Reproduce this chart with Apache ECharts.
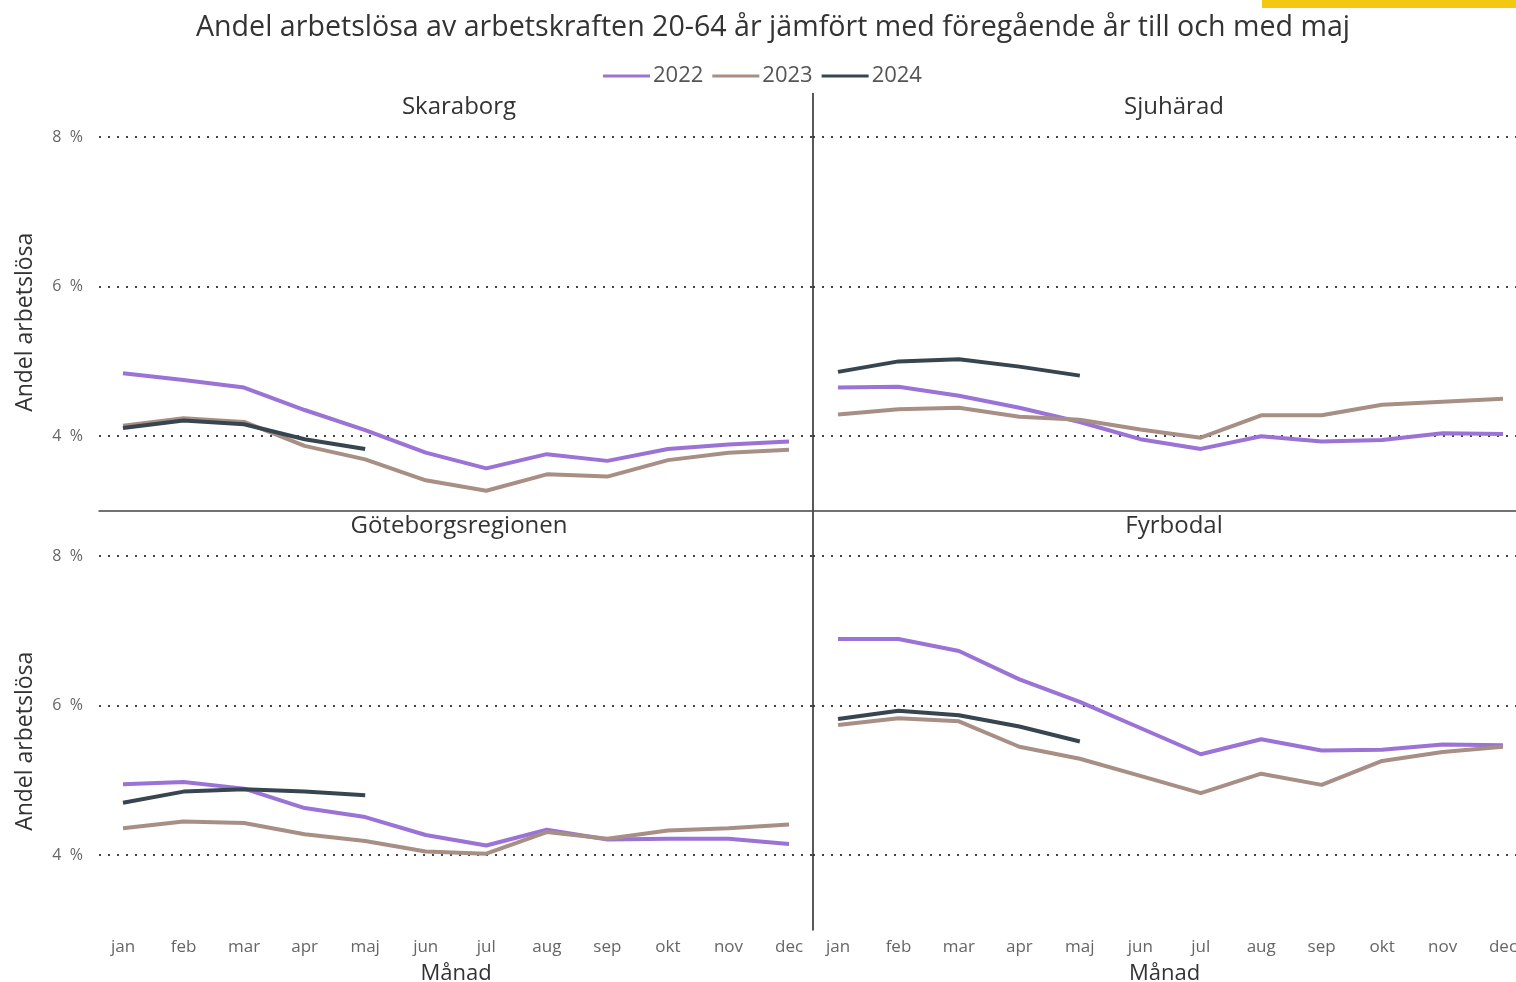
<!DOCTYPE html>
<html>
<head>
<meta charset="utf-8">
<script src="https://cdn.jsdelivr.net/npm/echarts@6/dist/echarts.min.js"></script>
<style>
  html, body { margin: 0; padding: 0; background: #fff; }
  #chart { width: 1516px; height: 982px; }
</style>
</head>
<body>
<div id="chart"></div>
<script>
// data
const months = ["jan", "feb", "mar", "apr", "maj", "jun", "jul", "aug", "sep", "okt", "nov", "dec"];
const years = ["2022", "2023", "2024"];
const regions = ["Skaraborg", "Sjuhärad", "Göteborgsregionen", "Fyrbodal"];
const yTicks = [4, 6, 8];

const skaraborg2022 = [4.84, 4.75, 4.65, 4.35, 4.08, 3.78, 3.57, 3.76, 3.67, 3.83, 3.89, 3.93];
const skaraborg2023 = [4.14, 4.24, 4.19, 3.87, 3.69, 3.41, 3.27, 3.49, 3.46, 3.68, 3.78, 3.82];
const skaraborg2024 = [4.11, 4.21, 4.16, 3.96, 3.83];

const sjuharad2022 = [4.65, 4.66, 4.54, 4.38, 4.19, 3.96, 3.83, 4.00, 3.93, 3.95, 4.04, 4.03];
const sjuharad2023 = [4.29, 4.36, 4.38, 4.26, 4.22, 4.09, 3.98, 4.28, 4.28, 4.42, 4.46, 4.50];
const sjuharad2024 = [4.86, 5.00, 5.03, 4.93, 4.81];

const goteborg2022 = [4.95, 4.98, 4.89, 4.63, 4.51, 4.27, 4.13, 4.34, 4.21, 4.22, 4.22, 4.15];
const goteborg2023 = [4.36, 4.45, 4.43, 4.28, 4.19, 4.05, 4.02, 4.31, 4.22, 4.33, 4.36, 4.41];
const goteborg2024 = [4.70, 4.85, 4.88, 4.85, 4.80];

const fyrbodal2022 = [6.89, 6.89, 6.73, 6.35, 6.05, 5.70, 5.35, 5.55, 5.40, 5.41, 5.48, 5.47];
const fyrbodal2023 = [5.74, 5.83, 5.79, 5.45, 5.29, 5.06, 4.83, 5.09, 4.94, 5.26, 5.38, 5.45];
const fyrbodal2024 = [5.82, 5.93, 5.87, 5.72, 5.52];

const panelData = [
    [skaraborg2022, skaraborg2023, skaraborg2024],
    [sjuharad2022, sjuharad2023, sjuharad2024],
    [goteborg2022, goteborg2023, goteborg2024],
    [fyrbodal2022, fyrbodal2023, fyrbodal2024],
];

const colors = ["#9B72D5", "#A88F86", "#36454F"];
const font = "'Open Sans', 'Noto Sans', sans-serif";

// panel layout: 0 top-left, 1 top-right, 2 bottom-left, 3 bottom-right
const grids = [
    { left: 99, top: 93.6, width: 714, height: 417.4, outerBoundsMode: "none" },
    { left: 813, top: 93.6, width: 703, height: 417.4, outerBoundsMode: "none" },
    { left: 99, top: 512.6, width: 714, height: 417.4, outerBoundsMode: "none" },
    { left: 813, top: 512.6, width: 703, height: 417.4, outerBoundsMode: "none" },
];
const xRange = [
    [-0.396, 11.396],
    [-0.414, 11.215],
    [-0.396, 11.396],
    [-0.414, 11.215],
];

const xAxes = grids.map((g, i) => {
    const isTop = i < 2;
    return {
        type: "value",
        gridIndex: i,
        min: xRange[i][0],
        max: xRange[i][1],
        name: isTop ? "" : "Månad",
        nameLocation: "middle",
        nameGap: 33,
        nameTextStyle: { fontSize: 22, color: "#333", fontFamily: font },
        axisLine: { show: isTop, onZero: false, lineStyle: { color: "#444", width: 1.5 } },
        axisTick: { show: false },
        splitLine: { show: false },
        axisLabel: {
            show: !isTop,
            customValues: months.map((m, k) => k),
            formatter: (v) => months[Math.round(v)],
            fontSize: 17,
            color: "#666",
            fontFamily: font,
            margin: 9,
        },
    };
});

const yAxes = grids.map((g, i) => {
    const isLeft = i % 2 === 0;
    return {
        type: "value",
        gridIndex: i,
        min: 3,
        max: 8.58,
        name: isLeft ? "Andel arbetslösa" : "",
        nameLocation: "middle",
        nameGap: 62,
        nameTextStyle: { fontSize: 23, color: "#333", fontFamily: font, padding: [0, 40, 0, 0] },
        axisLine: { show: !isLeft, onZero: false, lineStyle: { color: "#222", width: 1.5 } },
        axisTick: { show: false, customValues: yTicks },
        axisLabel: {
            show: isLeft,
            customValues: yTicks,
            formatter: (v) => v + "  %",
            fontSize: 16,
            color: "#666",
            fontFamily: font,
            margin: 16,
        },
        splitLine: {
            show: true,
            lineStyle: { color: "#444", width: 2, type: [2, 7] },
        },
    };
});

const series = [];
panelData.forEach((rows, p) => {
    rows.forEach((vals, k) => {
        series.push({
            name: years[k],
            type: "line",
            xAxisIndex: p,
            yAxisIndex: p,
            symbol: "none",
            data: vals.map((v, i) => [i, v]),
            lineStyle: { width: 4, color: colors[k] },
            itemStyle: { color: colors[k] },
            z: 3 + k,
        });
    });
});

const panelTitles = regions.map((r, i) => ({
    type: "text",
    x: i % 2 === 0 ? 459 : 1174,
    y: i < 2 ? 107 : 526,
    style: {
        text: r,
        fontSize: 24,
        fill: "#333",
        fontFamily: font,
        textAlign: "center",
        textVerticalAlign: "middle",
    },
}));

let chart = echarts.init(document.getElementById("chart"));
chart.setOption({
    animation: false,
    color: colors,
    title: {
        text: "Andel arbetslösa av arbetskraften 20-64 år jämfört med föregående år till och med maj",
        left: 191,
        top: 8,
        textStyle: { fontSize: 28.6, fontWeight: "normal", color: "#333", fontFamily: font },
    },
    legend: {
        data: years,
        top: 60,
        left: 598,
        icon: "rect",
        itemWidth: 47,
        itemHeight: 3,
        itemGap: 9,
        textStyle: { fontSize: 22, color: "#555", fontFamily: font, padding: [0, 0, 0, -2] },
    },
    graphic: panelTitles.concat([
        { type: "rect", left: 1262, top: 0, shape: { width: 254, height: 8 }, style: { fill: "#F2C811" } },
    ]),
    grid: grids,
    xAxis: xAxes,
    yAxis: yAxes,
    series: series,
});
</script>
</body>
</html>
